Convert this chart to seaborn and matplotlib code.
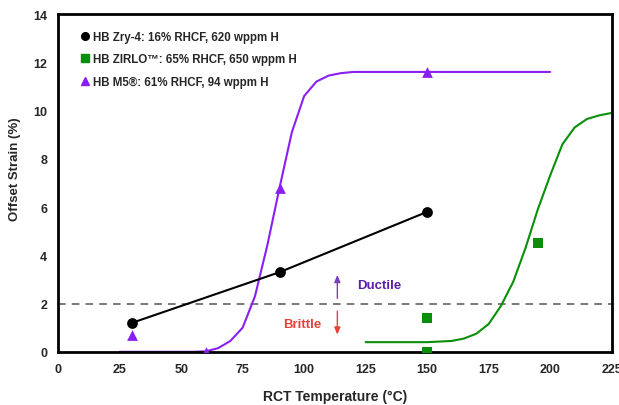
import matplotlib
matplotlib.use("Agg")
import matplotlib.pyplot as plt
import seaborn as sns
import pandas as pd
from matplotlib.lines import Line2D

sns.set_theme(style="white")
plt.rcParams['font.family'] = ['Liberation Sans', 'DejaVu Sans']

# Data
zry_T = [30, 90, 150]
zry_strain = [1.2, 3.3, 5.8]

zirlo_pts_T = [150, 150, 195]
zirlo_pts_strain = [1.4, 0.0, 4.5]
zirlo_fit_T = [125, 150, 160, 165, 170, 175, 180, 185, 190, 195, 200, 205, 210, 215, 220, 225]
zirlo_fit_strain = [0.4, 0.4, 0.45, 0.55, 0.75, 1.15, 1.9, 2.9, 4.3, 5.9, 7.3, 8.6, 9.3, 9.65, 9.8, 9.9]

m5_pts_T = [30, 60, 90, 150]
m5_pts_strain = [0.7, 0.0, 6.8, 11.6]
m5_fit_T = [25, 55, 60, 65, 70, 75, 80, 85, 90, 95, 100, 105, 110, 115, 120, 150, 200]
m5_fit_strain = [0.0, 0.0, 0.02, 0.15, 0.45, 1.0, 2.3, 4.4, 6.8, 9.1, 10.6, 11.2, 11.45, 11.55, 11.6, 11.6, 11.6]

labels = ["HB Zry-4: 16% RHCF, 620 wppm H",
          "HB ZIRLO\u2122: 65% RHCF, 650 wppm H",
          "HB M5\u00ae: 61% RHCF, 94 wppm H"]
x_ticks = [0, 25, 50, 75, 100, 125, 150, 175, 200, 225]
y_ticks = [0, 2, 4, 6, 8, 10, 12, 14]
threshold = 2

BLACK = "#000000"
GREEN = "#0a8f0a"
PURPLE = "#8a1ff2"

fig = plt.figure(figsize=(6.19, 4.06), dpi=100)
ax = fig.add_axes([0.094, 0.131, 0.894, 0.832])

ax.axhline(threshold, color="#555555", lw=1.1, ls=(0, (5, 4)), zorder=1)

sns.lineplot(x=m5_fit_T, y=m5_fit_strain, ax=ax, color=PURPLE, lw=1.5, zorder=2)
sns.lineplot(x=zirlo_fit_T, y=zirlo_fit_strain, ax=ax, color=GREEN, lw=1.5, zorder=2)
sns.lineplot(x=zry_T, y=zry_strain, ax=ax, color=BLACK, lw=1.5, zorder=2)

sns.scatterplot(x=zry_T, y=zry_strain, ax=ax, color=BLACK, marker="o", s=60,
                edgecolor=BLACK, linewidth=0, zorder=3)
sns.scatterplot(x=zirlo_pts_T, y=zirlo_pts_strain, ax=ax, color=GREEN, marker="s", s=55,
                edgecolor=GREEN, linewidth=0, zorder=3)
sns.scatterplot(x=m5_pts_T, y=m5_pts_strain, ax=ax, color=PURPLE, marker="^", s=60,
                edgecolor=PURPLE, linewidth=0, zorder=3)

# Ductile / Brittle annotations
ax.annotate("", xy=(113.5, 3.3), xytext=(113.5, 2.1),
            arrowprops=dict(arrowstyle="-|>,head_width=0.15,head_length=0.35", color="#7a3fc0", lw=1.0))
ax.annotate("", xy=(113.5, 0.6), xytext=(113.5, 1.8),
            arrowprops=dict(arrowstyle="-|>,head_width=0.15,head_length=0.35", color="#e8413a", lw=1.0))
ax.text(121.5, 2.78, "Ductile", color="#5a1fa8", fontsize=9.5, fontweight="bold", va="center", ha="left")
ax.text(91.5, 1.16, "Brittle", color="#e8413a", fontsize=9.5, fontweight="bold", va="center", ha="left")

ax.set_xlim(0, 225)
ax.set_ylim(0, 14)
ax.set_xticks(x_ticks)
ax.set_yticks(y_ticks)
ax.set_xticklabels([str(t) for t in x_ticks], fontsize=9, fontweight="bold")
ax.set_yticklabels([str(t) for t in y_ticks], fontsize=9, fontweight="bold")
ax.tick_params(axis="both", direction="in", length=3, width=0.8, color="#999999", pad=8)
ax.set_xlabel("RCT Temperature (\u00b0C)", fontsize=10, fontweight="bold", labelpad=10)
ax.set_ylabel("Offset Strain (%)", fontsize=9.5, fontweight="bold", labelpad=8)
ax.yaxis.set_label_coords(-0.068, 0.545)

for sp in ax.spines.values():
    sp.set_color("black")
    sp.set_linewidth(2)
    sp.set_visible(True)

handles = [
    Line2D([], [], ls="none", marker="o", color=BLACK, markersize=5.5),
    Line2D([], [], ls="none", marker="s", color=GREEN, markersize=5.5),
    Line2D([], [], ls="none", marker="^", color=PURPLE, markersize=6),
]
leg = ax.legend(handles, labels, loc="upper left", frameon=False,
                prop=dict(size=8.3, weight="bold"), handlelength=0.7, handletextpad=0.3,
                labelspacing=0.95, borderaxespad=0.3, bbox_to_anchor=(0.027, 0.975))

fig.savefig("out.png", dpi=100)
